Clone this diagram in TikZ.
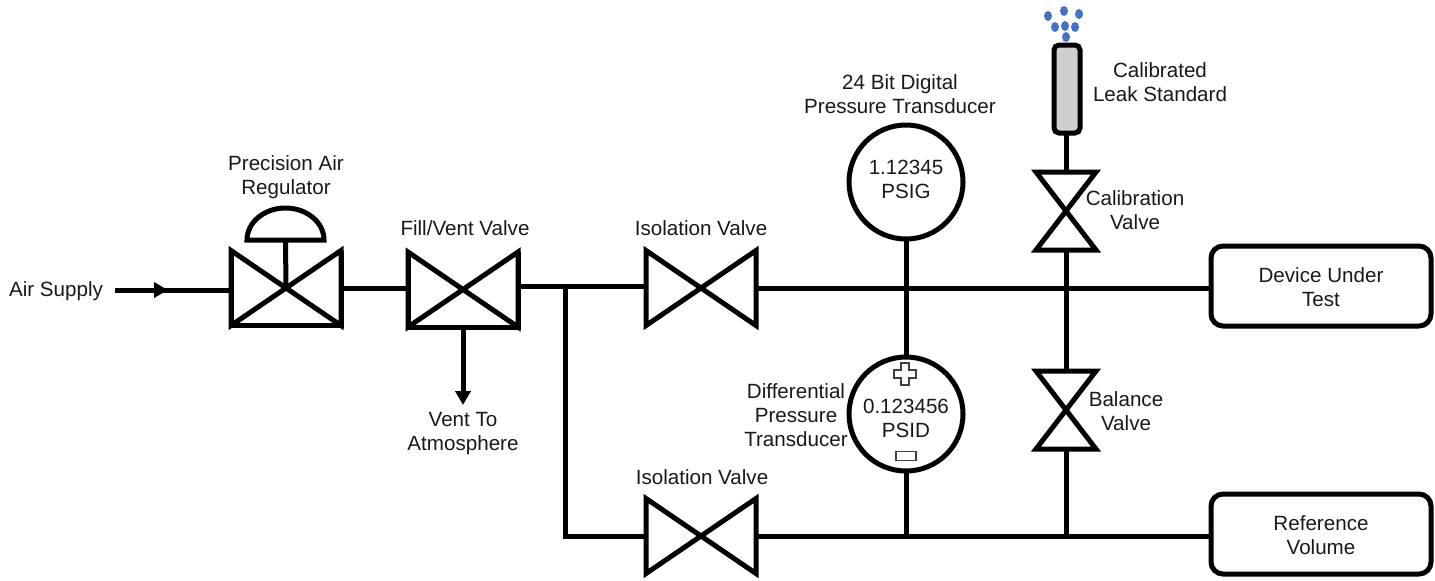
\documentclass[tikz,border=0pt]{standalone}
\usepackage{fontspec}
\setmainfont{Liberation Sans}
\usepackage{tikz}
\usetikzlibrary{arrows.meta}

\definecolor{leakgray}{HTML}{D0CECE}
\definecolor{dropblue}{HTML}{4472C4}

\tikzset{
	pipe/.style={line width=2.5pt},
	flow/.style={pipe,-{Triangle[length=7pt,width=7.5pt]}},
	bowtie/.style={inner sep=0pt,outer sep=0pt,minimum width=55pt,minimum height=37.5pt},
	crossvalve/.style={inner sep=0pt,outer sep=0pt,minimum width=30pt,minimum height=39pt},
	gauge/.style={draw,pipe,circle,inner sep=0pt,outer sep=0pt,minimum size=57pt,align=center},
	tank/.style={draw,pipe,rectangle,rounded corners=6pt,inner sep=0pt,outer sep=0pt,minimum width=110pt,minimum height=40pt,align=center,text height=21pt},
	lbl/.style={align=center,inner sep=0pt},
	every node/.append style={font=\fontsize{10.3}{12}\selectfont,text=black!90}
}

\begin{document}
\begin{tikzpicture}[x=0.5pt,y=-0.5pt,node distance=88.5pt]
	\useasboundingbox (0,0) rectangle (1435,580);

	\node (reg) [bowtie] at (286,288) {};
	\node (fill) [bowtie,right of=reg,yshift=-0.75pt] {};
	\node (isoa) [bowtie,right of=fill,node distance=119pt,yshift=0.75pt] {};
	\node (isob) [bowtie,below of=isoa,node distance=124pt] {};
	\node (diga) [gauge,right of=isoa,node distance=102.5pt,yshift=53pt,text depth=3pt] {1.12345\\PSIG};
	\node (digb) [gauge,below of=diga,node distance=116pt,text height=24pt] {0.123456\\PSID};
	\node (cal) [crossvalve] at (1066,211) {};
	\node (bal) [crossvalve,below of=cal,node distance=99.5pt] {};
	\node (leak) [draw,pipe,fill=leakgray,rectangle,rounded corners=2.5pt,inner sep=0pt,outer sep=0pt,minimum width=13pt,minimum height=44pt] at (1067,89) {};
	\node (dut) [tank] at (1321,286) {Device Under\\Test};
	\node (vol) [tank,below of=dut,node distance=124pt] {Reference\\Volume};

	\node (airtext) [lbl] at (56,291) {Air Supply};
	\node (regtext) [lbl] at (286,177) {Precision Air\\Regulator};
	\node (filltext) [lbl] at (465,228) {Fill/Vent Valve};
	\node (venttext) [lbl] at (463,434) {Vent To\\Atmosphere};
	\node (isoatext) [lbl] at (701,228) {Isolation Valve};
	\node (isobtext) [lbl] at (702,477) {Isolation Valve};
	\node (digatext) [lbl] at (900,94) {24 Bit Digital\\Pressure Transducer};
	\node (digbtext) [lbl] at (796,415) {Differential\\Pressure\\Transducer};
	\node (leaktext) [lbl] at (1160,82) {Calibrated\\Leak Standard};
	\node (caltext) [lbl] at (1135,210) {Calibration\\Valve};
	\node (baltext) [lbl] at (1126,411) {Balance\\Valve};
	\node (minus) [draw,line width=0.6pt,draw=black!75,minimum width=10pt,minimum height=4.5pt,inner sep=0pt] at (906,456) {};

	\coordinate (airstart) at (115,290);
	\coordinate (airtip) at (168,290);
	\coordinate (tee) at (565,286);
	\coordinate (ventend) at (463,405);
	\coordinate (dome) at (285.5,240);

	\foreach \tie in {reg,fill,isoa,isob}
		\draw [pipe] (\tie.north west) -- (\tie.south east) -- (\tie.north east) -- (\tie.south west) -- cycle;
	\foreach \tie in {reg,fill}
		\draw [pipe] (\tie.north west) -- (\tie.south west) -- (\tie.south east) -- (\tie.north east);
	\foreach \tie in {cal,bal}
		\draw [pipe] (\tie.north west) -- (\tie.north east) -- (\tie.south west) -- (\tie.south east) -- cycle;

	\draw [flow] (airstart) -- (airtip);
	\draw [pipe] (airstart) -- (airstart -| reg.west);
	\draw [pipe] (reg.east) -- (reg.east -| fill.west);
	\draw [pipe] (fill.east |- tee) -- (tee -| isoa.west);
	\draw [pipe] (tee) |- (isob.west);
	\draw [flow] (fill.south) -- (fill.south |- ventend);
	\draw [pipe] (isoa.east) -- (isoa.east -| dut.west);
	\draw [pipe] (isob.east) -- (isob.east -| vol.west);
	\draw [pipe] (diga.south) -- (digb.north);
	\draw [pipe] (digb.south) -- (digb.south |- isob.east);
	\draw [pipe] (cal.north |- leak.south) -- (cal.north);
	\draw [pipe] (cal.south) -- (bal.north);
	\draw [pipe] (bal.south) -- (bal.south |- isob.east);
	\draw [pipe] (reg.center) -- (dome);
	\draw [pipe] ([xshift=-19.25pt]dome) arc [start angle=180,end angle=0,x radius=19.25pt,y radius=16pt] -- cycle;

	\draw [line width=0.6pt,draw=black!75] (901,363) -- ++(8,0) -- ++(0,7) -- ++(7,0) -- ++(0,8) -- ++(-7,0) -- ++(0,7) -- ++(-8,0) -- ++(0,-7) -- ++(-7,0) -- ++(0,-8) -- ++(7,0) -- cycle;

	\foreach \dropx/\dropy in {1048/16,1064/11,1079/14,1055/27,1065/26,1075/27,1066/37}
		\fill [dropblue] (\dropx,\dropy) ellipse [x radius=2pt,y radius=2.5pt];
\end{tikzpicture}
\end{document}
